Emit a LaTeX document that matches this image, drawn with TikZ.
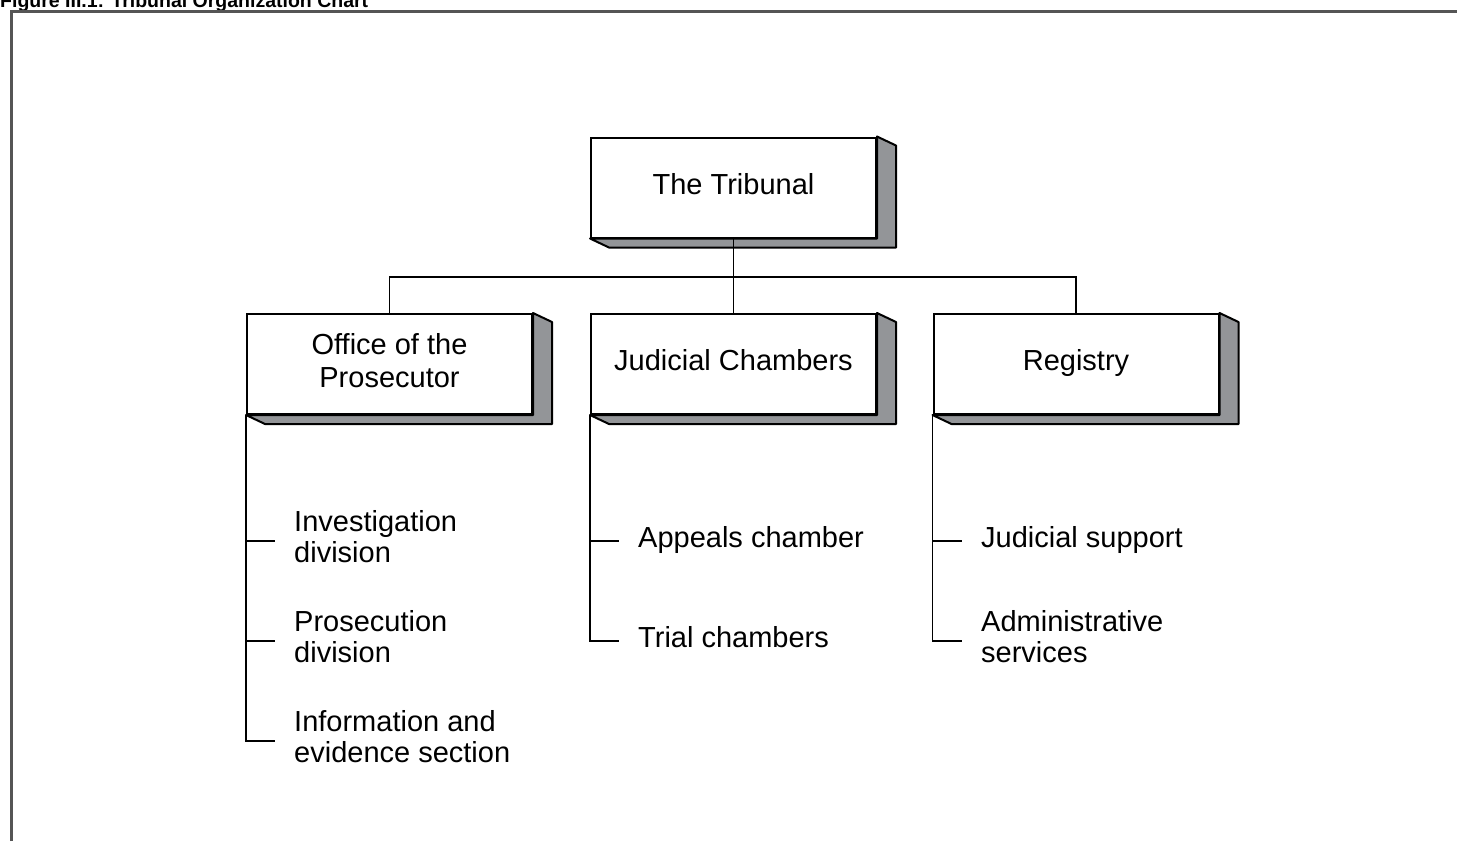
\documentclass[tikz,border=0pt]{standalone}
\usepackage{fontspec}
\setmainfont{Liberation Sans}
\usetikzlibrary{positioning,calc}
\definecolor{sidegray}{HTML}{939598}
\definecolor{framegray}{HTML}{555555}
\tikzset{
  unit/.style={draw, line width=2pt, fill=white, minimum width=285pt, minimum height=100pt,
    align=center, inner sep=0pt, font=\fontsize{29}{33}\selectfont},
  oneline/.style={text height=20pt, text depth=7pt},
  item/.style={anchor=west, align=left, inner sep=0pt, font=\fontsize{29}{31}\selectfont},
  twoline/.style={yshift=4.5pt},
  link/.style={line width=1.8pt}
}
\begin{document}
\begin{tikzpicture}[x=1pt, y=-1pt]
    \useasboundingbox (0,0) rectangle (1457,841);
    % Title and frame
    \node [anchor=base west, inner sep=0pt, font=\fontsize{19.5}{22}\selectfont\bfseries] (title) at (0,7) {Figure III.1: Tribunal Organization Chart};
    \draw [framegray, line width=3pt] (11,841) -- (11,11) -- (1457,11);

    % Boxes
    \node [unit, oneline] (trib) at (733.5,187.5) {The Tribunal};
    \node [unit] (otp) at (389.5,364) {\raisebox{3pt}{\begin{tabular}{@{}c@{}}Office of the\\Prosecutor\end{tabular}}};
    \node [unit, oneline] (jc) at (733.5,364) {Judicial Chambers};
    \node [unit, oneline] (reg) at (1076,364) {Registry};
    \foreach \n in {trib,otp,jc,reg}
      \filldraw [fill=sidegray, line width=2pt, line join=round] (\n.north east) -- ++(19,9) -- ($(\n.south east)+(19,9)$) -- ($(\n.south west)+(19,9)$) -- (\n.south west) -- (\n.south east) -- cycle;

    % Tree
    \coordinate (bus) at (733.5,277);
    \draw [link] (trib.south) -- (bus);
    \draw [link] (otp.north) |- (bus) -| (reg.north);
    \draw [link] (jc.north) -- (bus);

    % Office of the Prosecutor
    \coordinate (tinv) at (275,541);
    \coordinate (tpros) at (275,641);
    \coordinate (tinfo) at (275,741);
    \node [item, twoline] (inv) at ([xshift=19pt]tinv) {Investigation\\division};
    \node [item, twoline] (pros) at ([xshift=19pt]tpros) {Prosecution\\division};
    \node [item, twoline] (info) at ([xshift=19pt]tinfo) {Information and\\evidence section};
    \draw [link] (otp.south west) |- (tinfo);
    \draw [link] (otp.south west |- tinv) -- (tinv);
    \draw [link] (otp.south west |- tpros) -- (tpros);

    % Judicial Chambers
    \coordinate (tapp) at (619,541);
    \coordinate (ttrial) at (619,641);
    \node [item, oneline] (appeal) at ([xshift=19pt]tapp) {Appeals chamber};
    \node [item, oneline] (trial) at ([xshift=19pt]ttrial) {Trial chambers};
    \draw [link] (jc.south west) |- (ttrial);
    \draw [link] (jc.south west |- tapp) -- (tapp);

    % Registry
    \coordinate (tjsup) at (962,541);
    \coordinate (tadmin) at (962,641);
    \node [item, oneline] (jsup) at ([xshift=19pt]tjsup) {Judicial support};
    \node [item, twoline] (admin) at ([xshift=19pt]tadmin) {Administrative\\services};
    \draw [link] (reg.south west) |- (tadmin);
    \draw [link] (reg.south west |- tjsup) -- (tjsup);
\end{tikzpicture}
\end{document}
